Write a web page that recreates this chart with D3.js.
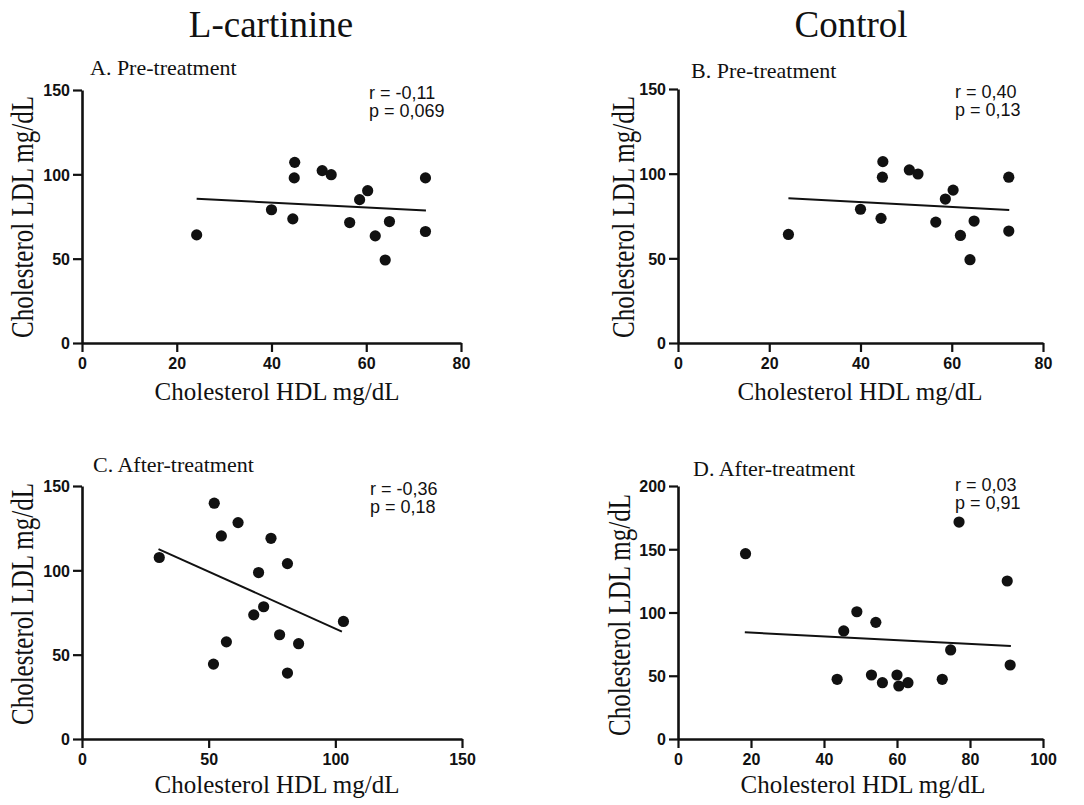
<!DOCTYPE html>
<html>
<head>
<meta charset="utf-8">
<script src="https://cdn.jsdelivr.net/npm/d3@7"></script>
<style>
  body { margin: 0; background: #fff; }
  svg { display: block; }
  .serif { font-family: "Liberation Serif", "Times New Roman", serif; fill: #111; }
  .stat { font-family: "Liberation Sans", Arial, sans-serif; font-size: 18px; fill: #111; }
</style>
</head>
<body>
<svg id="chart" width="1084" height="805"></svg>
<script>
// Pre-treatment (same values in A and B)
const hdlPre = [24.2, 40, 44.9, 44.8, 44.5, 50.7, 52.6, 56.5, 58.6, 60.3, 61.9, 64.9, 64, 72.5, 72.5];
const ldlPre = [64.1, 79, 107.1, 97.9, 73.6, 102.2, 99.8, 71.4, 85, 90.3, 63.5, 72, 49.2, 97.9, 66.1];
const fitPreX = [24.2, 72.6];
const fitPreY = [85.5, 78.6];

// C. L-cartinine after treatment
const hdlAfterL = [30.5, 52.2, 55, 61.6, 74.6, 81.1, 69.7, 71.7, 67.8, 103.2, 78, 85.5, 57, 51.9, 81.1];
const ldlAfterL = [107.6, 139.8, 120.4, 128.3, 119, 104, 98.7, 78.4, 73.6, 69.7, 61.8, 56.5, 57.6, 44.4, 39.1];
const fitAfterLX = [30.2, 102.6];
const fitAfterLY = [112.6, 63.7];

// D. Control after treatment
const hdlAfterC = [18.5, 77, 90.2, 49, 45.4, 54.2, 74.7, 91, 43.6, 53, 56, 60, 60.5, 63, 72.4];
const ldlAfterC = [146.5, 171.5, 124.9, 100.6, 85.4, 92.2, 70.4, 58.5, 47.2, 50.6, 44.5, 50.6, 41.9, 44.5, 47.2];
const fitAfterCX = [18.3, 91.2];
const fitAfterCY = [84.3, 73.5];

// tick labels
const xTicks80 = [0, 20, 40, 60, 80];
const xTicks150 = [0, 50, 100, 150];
const xTicks100 = [0, 20, 40, 60, 80, 100];
const yTicks150 = [0, 50, 100, 150];
const yTicks200 = [0, 50, 100, 150, 200];

const columnTitles = ['L-cartinine', 'Control'];
const panelTitles = ['A. Pre-treatment', 'B. Pre-treatment', 'C. After-treatment', 'D. After-treatment'];
const rTexts = ['r = -0,11', 'r = 0,40', 'r = -0,36', 'r = 0,03'];
const pTexts = ['p = 0,069', 'p = 0,13', 'p = 0,18', 'p = 0,91'];
const xLabel = 'Cholesterol HDL mg/dL';
const yLabel = 'Cholesterol LDL mg/dL';

const svg = d3.select('#chart');

// column headers
svg.selectAll('text.col')
  .data(columnTitles)
  .enter()
  .append('text')
  .attr('class', 'serif col')
  .attr('x', (d, i) => [271, 851][i])
  .attr('y', 37)
  .attr('text-anchor', 'middle')
  .style('font-size', '37px')
  .text(d => d);

// panel layout
const panels = [
  { x0: 82, x1: 461, yTop: 90, y0: 343, xMax: 80, yMax: 150, xt: xTicks80, yt: yTicks150,
    hdl: hdlPre, ldl: ldlPre, fx: fitPreX, fy: fitPreY,
    tx: 90, ty: 75, sx: 369, sy: 99, xlx: 277, xly: 400, ylx: 33, yly: 217 },
  { x0: 678, x1: 1043, yTop: 89, y0: 343, xMax: 80, yMax: 150, xt: xTicks80, yt: yTicks150,
    hdl: hdlPre, ldl: ldlPre, fx: fitPreX, fy: fitPreY,
    tx: 691, ty: 78, sx: 955, sy: 98, xlx: 860, xly: 400, ylx: 634, yly: 217 },
  { x0: 82, x1: 462, yTop: 486, y0: 739, xMax: 150, yMax: 150, xt: xTicks150, yt: yTicks150,
    hdl: hdlAfterL, ldl: ldlAfterL, fx: fitAfterLX, fy: fitAfterLY,
    tx: 93, ty: 472, sx: 370, sy: 495, xlx: 277, xly: 793, ylx: 33, yly: 604 },
  { x0: 678, x1: 1043, yTop: 486, y0: 739, xMax: 100, yMax: 200, xt: xTicks100, yt: yTicks200,
    hdl: hdlAfterC, ldl: ldlAfterC, fx: fitAfterCX, fy: fitAfterCY,
    tx: 693, ty: 476, sx: 955, sy: 491, xlx: 863, xly: 793, ylx: 630, yly: 615 }
];

panels.forEach((p, i) => {
  const x = d3.scaleLinear().domain([0, p.xMax]).range([p.x0, p.x1]);
  const y = d3.scaleLinear().domain([0, p.yMax]).range([p.y0, p.yTop]);
  const g = svg.append('g');

  // axes
  const xAxis = g.append('g')
    .attr('transform', `translate(0,${p.y0})`)
    .call(d3.axisBottom(x).tickValues(p.xt).tickFormat(d3.format('d')).tickSize(9).tickSizeOuter(0).tickPadding(6));
  const yAxis = g.append('g')
    .attr('transform', `translate(${p.x0},0)`)
    .call(d3.axisLeft(y).tickValues(p.yt).tickFormat(d3.format('d')).tickSize(9).tickSizeOuter(0).tickPadding(3));
  [xAxis, yAxis].forEach(a => {
    a.select('.domain').attr('stroke', '#111').attr('stroke-width', 2.6);
    a.selectAll('.tick line').attr('stroke', '#111').attr('stroke-width', 2.2);
    a.selectAll('.tick text')
      .style('font-family', '"Liberation Sans", Arial, sans-serif')
      .style('font-weight', 'bold')
      .style('font-size', '16px')
      .style('fill', '#111');
  });
  yAxis.selectAll('.tick text').attr('dy', '0.36em');

  // regression line
  g.append('line')
    .attr('x1', x(p.fx[0])).attr('y1', y(p.fy[0]))
    .attr('x2', x(p.fx[1])).attr('y2', y(p.fy[1]))
    .attr('stroke', '#111')
    .attr('stroke-width', 2);

  // points
  g.selectAll('circle')
    .data(p.hdl.map((h, k) => [h, p.ldl[k]]))
    .enter()
    .append('circle')
    .attr('cx', d => x(d[0]))
    .attr('cy', d => y(d[1]))
    .attr('r', 5.6)
    .attr('fill', '#111');

  // panel title
  g.append('text')
    .attr('class', 'serif')
    .attr('x', p.tx).attr('y', p.ty)
    .style('font-size', '22px')
    .text(panelTitles[i]);

  // r / p
  g.append('text').attr('class', 'stat').attr('x', p.sx).attr('y', p.sy).text(rTexts[i]);
  g.append('text').attr('class', 'stat').attr('x', p.sx).attr('y', p.sy + 18).text(pTexts[i]);

  // axis labels
  g.append('text')
    .attr('class', 'serif')
    .attr('x', p.xlx).attr('y', p.xly)
    .attr('text-anchor', 'middle')
    .style('font-size', '25px')
    .text(xLabel);
  g.append('text')
    .attr('class', 'serif')
    .attr('transform', `translate(${p.ylx},${p.yly}) rotate(-90) scale(1,1.25)`)
    .attr('text-anchor', 'middle')
    .style('font-size', '25px')
    .text(yLabel);
});
</script>
</body>
</html>
